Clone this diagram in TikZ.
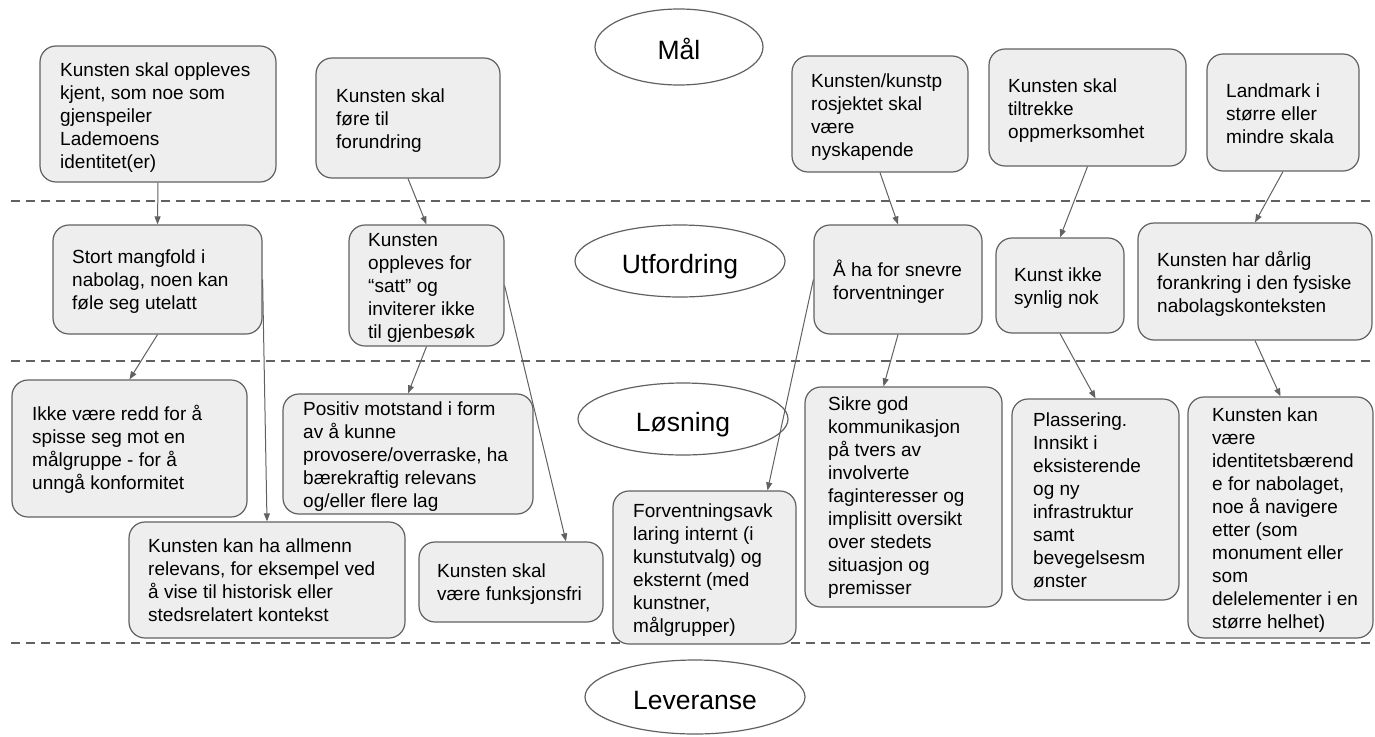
\documentclass[tikz,border=0pt]{standalone}
\usepackage{fontspec}
\setmainfont{Liberation Sans}
\usetikzlibrary{shapes.geometric,arrows.meta}
\definecolor{boxgray}{HTML}{EEEEEE}
\definecolor{linegray}{HTML}{616161}
\tikzset{
  box/.style={draw=linegray, fill=boxgray, rounded corners=16pt, line width=1.2pt, inner sep=0pt},
  txt/.style={inner sep=0pt, align=left, font=\fontsize{19}{23}\selectfont, anchor=base west},
  stage/.style={ellipse, draw=linegray, line width=1.2pt, fill=white, inner sep=0pt,
    font=\fontsize{26.5}{30}\selectfont, text height=24pt, text depth=0pt},
  conn/.style={draw=linegray, line width=1pt, -{Triangle[length=8pt,width=6pt]}},
  sep/.style={draw=linegray, line width=1.2pt, dash pattern=on 9pt off 6pt}
}
\begin{document}
\begin{tikzpicture}[x=1pt,y=-1pt]
\useasboundingbox (0,0) rectangle (1375,736);
% separators
\draw[sep] (11,201) -- (1375,201);
\draw[sep] (11,361) -- (1375,361);
\draw[sep] (11,643) -- (1375,643);
% stage ellipses
\node[stage, minimum width=168pt, minimum height=76pt] (Smaal) at (679,47) {Mål};
\node[stage, minimum width=210pt, minimum height=72pt] (Sutf) at (680,261) {Utfordring};
\node[stage, minimum width=210pt, minimum height=72pt] (Slos) at (683,419) {Løsning};
\node[stage, minimum width=220pt, minimum height=74pt] (Slev) at (695,697) {Leveranse};
% Mål row (text placed by the baseline of its last line)
\node[box, minimum width=236pt, minimum height=136pt] (B1) at (158,114) {};
\node[txt] (B1t) at (60,168) {Kunsten skal oppleves\\kjent, som noe som\\gjenspeiler\\Lademoens\\identitet(er)};
\node[box, minimum width=184pt, minimum height=120pt] (B2) at (408,118) {};
\node[txt] (B2t) at (336,148) {Kunsten skal\\føre til\\forundring};
\node[box, minimum width=176pt, minimum height=116pt] (M3) at (880,114) {};
\node[txt] (M3t) at (811,156) {Kunsten/kunstp\\rosjektet skal\\være\\nyskapende};
\node[box, minimum width=197pt, minimum height=117pt] (M4) at (1087.5,107.5) {};
\node[txt] (M4t) at (1008,138) {Kunsten skal\\tiltrekke\\oppmerksomhet};
\node[box, minimum width=152pt, minimum height=117pt] (M5) at (1283,112.5) {};
\node[txt] (M5t) at (1226,143) {Landmark i\\større eller\\mindre skala};
% Utfordring row
\node[box, minimum width=209pt, minimum height=109pt] (U1) at (157.5,279.5) {};
\node[txt] (U1t) at (72,309) {Stort mangfold i\\nabolag, noen kan\\føle seg utelatt};
\node[box, minimum width=155pt, minimum height=121pt] (U2) at (426.5,285.5) {};
\node[txt] (U2t) at (368,338) {Kunsten\\oppleves for\\“satt” og\\inviterer ikke\\til gjenbesøk};
\node[box, minimum width=168pt, minimum height=109pt] (U3) at (898,279.5) {};
\node[txt] (U3t) at (833,299) {Å ha for snevre\\forventninger};
\node[box, minimum width=128pt, minimum height=95pt] (U4) at (1060,285.5) {};
\node[txt] (U4t) at (1014,304) {Kunst ikke\\synlig nok};
\node[box, minimum width=234pt, minimum height=117pt] (U5) at (1255,281.5) {};
\node[txt] (U5t) at (1157,312) {Kunsten har dårlig\\forankring i den fysiske\\nabolagskonteksten};
% Løsning row
\node[box, minimum width=235pt, minimum height=137pt] (L1) at (129.5,448.5) {};
\node[txt] (L1t) at (32,489) {Ikke være redd for å\\spisse seg mot en\\målgruppe - for å\\unngå konformitet};
\node[box, minimum width=250pt, minimum height=120pt] (L2) at (408,454) {};
\node[txt] (L2t) at (303,507) {Positiv motstand i form\\av å kunne\\provosere/overraske, ha\\bærekraftig relevans\\og/eller flere lag};
\node[box, minimum width=184pt, minimum height=80pt] (L3) at (511,582) {};
\node[txt] (L3t) at (437,600) {Kunsten skal\\være funksjonsfri};
\node[box, minimum width=276pt, minimum height=116pt] (L4) at (267,580) {};
\node[txt] (L4t) at (148,621) {Kunsten kan ha allmenn\\relevans, for eksempel ved\\å vise til historisk eller\\stedsrelatert kontekst};
\node[box, minimum width=183pt, minimum height=153pt] (L5) at (704.5,567.5) {};
\node[txt] (L5t) at (633,632) {Forventningsavk\\laring internt (i\\kunstutvalg) og\\eksternt (med\\kunstner,\\målgrupper)};
\node[box, minimum width=197pt, minimum height=220pt] (L6) at (903.5,497) {};
\node[txt] (L6t) at (828,594) {Sikre god\\kommunikasjon\\på tvers av\\involverte\\faginteresser og\\implisitt oversikt\\over stedets\\situasjon og\\premisser};
\node[box, minimum width=167pt, minimum height=201pt] (L7) at (1095.5,499.5) {};
\node[txt] (L7t) at (1033,587) {Plassering.\\Innsikt i\\eksisterende\\og ny\\infrastruktur\\samt\\bevegelsesm\\ønster};
\node[box, minimum width=185pt, minimum height=241pt] (L8) at (1280.5,517.5) {};
\node[txt] (L8t) at (1212,628) {Kunsten kan\\være\\identitetsbærend\\e for nabolaget,\\noe å navigere\\etter (som\\monument eller\\som\\delelementer i en\\større helhet)};
% connectors
\draw[conn] (B1.south) -- (U1.north);
\draw[conn] (B2.south) -- (U2.north);
\draw[conn] (M3.south) -- (U3.north);
\draw[conn] (M4.south) -- (U4.north);
\draw[conn] (M5.south) -- (U5.north);
\draw[conn] (U1.south) -- (L1.north);
\draw[conn] (U1.east) -- (L4.north);
\draw[conn] (U2.south) -- (L2.north);
\draw[conn] (U2.east) -- ([xshift=55pt]L3.north);
\draw[conn] (U3.west) -- ([xshift=63pt]L5.north);
\draw[conn] (U3.south) -- ([xshift=-20pt]L6.north);
\draw[conn] (U4.south) -- (L7.north);
\draw[conn] (U5.south) -- (L8.north);
\end{tikzpicture}
\end{document}
